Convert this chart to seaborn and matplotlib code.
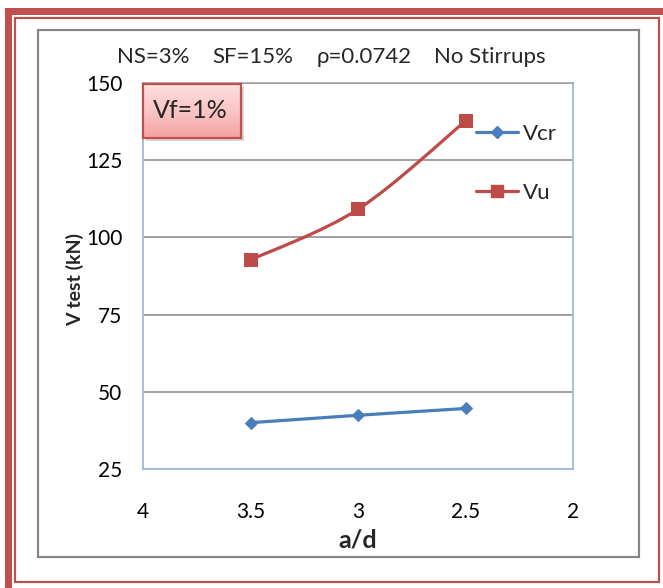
import numpy as np
import pandas as pd
import matplotlib
matplotlib.use("Agg")
import matplotlib.pyplot as plt
import seaborn as sns
from matplotlib.patches import Rectangle, PathPatch
from matplotlib.path import Path
from matplotlib.lines import Line2D
from matplotlib.colors import LinearSegmentedColormap

# ---- data ----
ad_values = [3.5, 3.0, 2.5]
vcr_values = [40.0, 42.4, 44.6]
vu_values = [92.7, 109.1, 137.7]
series_names = ["Vcr", "Vu"]
x_ticks = [4, 3.5, 3, 2.5, 2]
x_tick_labels = ["4", "3.5", "3", "2.5", "2"]
y_ticks = [25, 50, 75, 100, 125, 150]
y_tick_labels = ["25", "50", "75", "100", "125", "150"]
title_parts = ["NS=3%", "SF=15%", "\u03c1=0.0742", "No Stirrups"]
box_text = "Vf=1%"

sns.set_style("white")
plt.rcParams["font.family"] = ["Lato", "DejaVu Sans"]

W, H = 663, 588
fig = plt.figure(figsize=(W / 100, H / 100), dpi=100)


def fx(x):
    return x / W


def fy(y):
    return 1 - y / H


def pt(px):
    return px * 0.72


# ---- frames ----
red = "#C0504D"
fig.add_artist(Rectangle((fx(7.5), fy(590)), fx(667) - fx(7.5), fy(10.5) - fy(590),
                         transform=fig.transFigure, fill=False, ec=red, lw=pt(7)))
fig.add_artist(Rectangle((fx(15), fy(582)), fx(659) - fx(15), fy(18) - fy(582),
                         transform=fig.transFigure, fill=False, ec=red, lw=pt(2.2)))
fig.add_artist(Rectangle((fx(38), fy(557)), fx(639) - fx(38), fy(30) - fy(557),
                         transform=fig.transFigure, fill=False, ec="#868686", lw=pt(2.2)))

# ---- main axes ----
L, R, T, B = 143, 573, 83, 469
ax = fig.add_axes([fx(L), fy(B), fx(R) - fx(L), fy(T) - fy(B)])
ax.set_facecolor("none")

blue_c = "#4A7EBB"
red_c = "#BE4B48"

df_cr = pd.DataFrame({"ad": ad_values, "V": vcr_values})
df_u = pd.DataFrame({"ad": ad_values, "V": vu_values})

sns.lineplot(data=df_cr, x="ad", y="V", ax=ax, color=blue_c, lw=pt(3.2),
             marker="D", markersize=6, markeredgecolor=blue_c, sort=False, zorder=4)

# smoothed line for Vu (Catmull-Rom style Bezier, like spreadsheet smoothing)
P = np.column_stack([ad_values, vu_values])
ext = np.vstack([P[0], P, P[-1]])
verts = [tuple(P[0])]
codes = [Path.MOVETO]
for i in range(len(P) - 1):
    p0, p1, p2, p3 = ext[i], ext[i + 1], ext[i + 2], ext[i + 3]
    c1 = p1 + (p2 - p0) / 6
    c2 = p2 - (p3 - p1) / 6
    verts += [tuple(c1), tuple(c2), tuple(p2)]
    codes += [Path.CURVE4] * 3
ax.add_patch(PathPatch(Path(verts, codes), fill=False, ec=red_c, lw=pt(3.2), zorder=4))
sns.scatterplot(data=df_u, x="ad", y="V", ax=ax, color=red_c, marker="s", s=90,
                edgecolor=red_c, linewidth=0, zorder=5)

ax.set_xlim(4, 2)
ax.set_ylim(25, 150)
ax.set_xticks(x_ticks)
ax.set_xticklabels(x_tick_labels)
ax.set_yticks(y_ticks)
ax.set_yticklabels(y_tick_labels)
ax.tick_params(axis="both", length=0, labelsize=15, colors="black")
ax.tick_params(axis="y", pad=15)
ax.tick_params(axis="x", pad=24)
ax.yaxis.grid(True, color="#868686", lw=1.1)
ax.xaxis.grid(False)
ax.set_axisbelow(True)
for s in ["left", "right", "bottom"]:
    ax.spines[s].set_color("#9EBBDC")
    ax.spines[s].set_linewidth(1.3)
ax.spines["top"].set_color("#A0A0A0")
ax.spines["top"].set_linewidth(1.1)

ax.set_xlabel("a/d", fontsize=18, fontweight="bold")
ax.set_ylabel("V test (kN)", fontsize=14, fontweight="bold")
ax.xaxis.set_label_coords(0.5, (B - 528) / (B - T))
ax.yaxis.set_label_coords((84 - L) / (R - L), (B - 279) / (B - T))

# legend
handles = [Line2D([], [], color=blue_c, lw=pt(3.2), marker="D", markersize=6),
           Line2D([], [], color=red_c, lw=pt(3.2), marker="s", markersize=9)]
leg = ax.legend(handles, series_names, loc="upper left",
                bbox_to_anchor=(fx(476), fy(124)), bbox_transform=fig.transFigure,
                frameon=False, fontsize=16, handlelength=1.9, handletextpad=0.2,
                labelspacing=1.75, borderpad=0, borderaxespad=0)

# title parts
for txt, cx in zip(title_parts, [153, 253, 364, 490]):
    fig.text(fx(cx), fy(57), txt, ha="center", va="center", fontsize=16)

# Vf box with gradient and shadow
bx0, by0, bx1, by1 = 143, 84, 241, 138
sax = fig.add_axes([fx(bx0 + 3), fy(by1 + 3), fx(bx1) - fx(bx0), fy(by0) - fy(by1)])
sax.set_facecolor("#b0b0b0")
sax.patch.set_alpha(0.5)
sax.set_xticks([])
sax.set_yticks([])
for s in sax.spines.values():
    s.set_visible(False)
sax.set_zorder(3)

bax = fig.add_axes([fx(bx0), fy(by1), fx(bx1) - fx(bx0), fy(by0) - fy(by1)])
bax.set_zorder(4)
grad = np.linspace(0, 1, 64).reshape(-1, 1)
cmap = LinearSegmentedColormap.from_list("pk", ["#FDE0DF", "#F9C6C5", "#F3A3A2"])
bax.imshow(grad, aspect="auto", cmap=cmap, extent=[0, 1, 0, 1], origin="upper")
bax.set_xticks([])
bax.set_yticks([])
for s in bax.spines.values():
    s.set_color(red)
    s.set_linewidth(pt(2.2))
bax.text(0.48, 0.5, box_text, ha="center", va="center", fontsize=18, transform=bax.transAxes)

fig.savefig("out.png", dpi=100)
